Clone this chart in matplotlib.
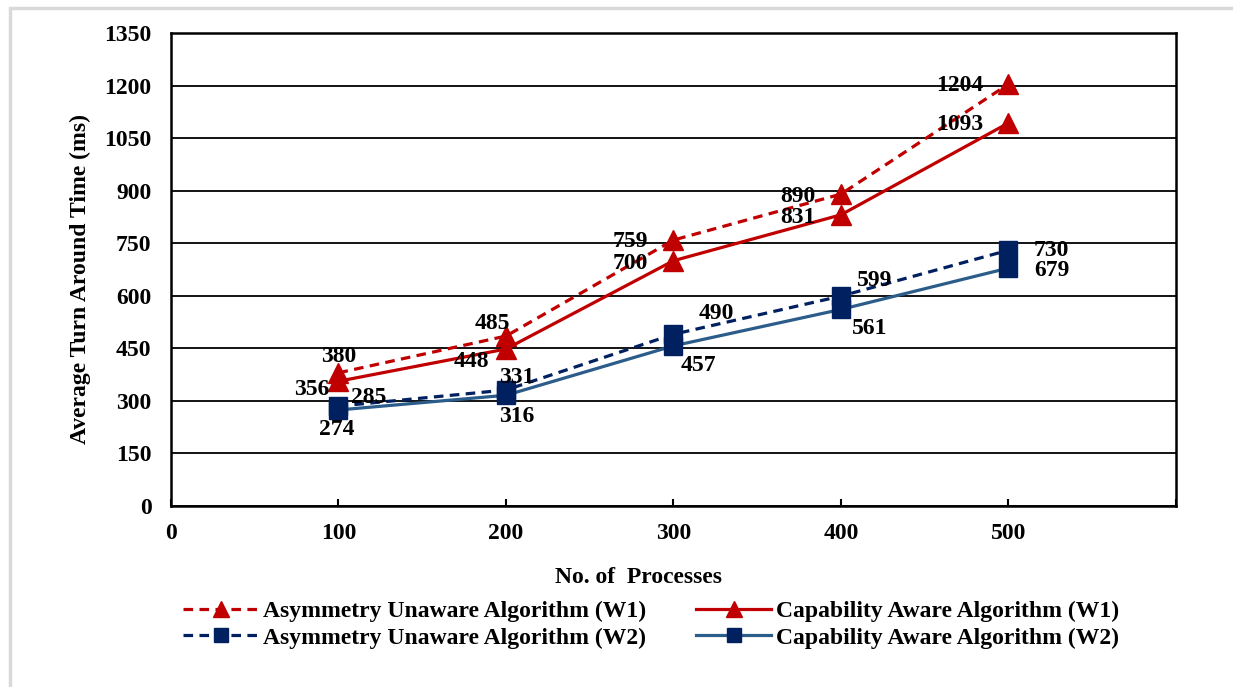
import matplotlib
matplotlib.use("Agg")
import matplotlib.pyplot as plt
from matplotlib.patches import Rectangle

plt.rcParams['font.family'] = ['Liberation Serif', 'DejaVu Serif']
plt.rcParams['font.weight'] = 'bold'

# Data
processes = [100, 200, 300, 400, 500]
unaware_w1 = [380, 485, 759, 890, 1204]
aware_w1 = [356, 448, 700, 831, 1093]
unaware_w2 = [285, 331, 490, 599, 730]
aware_w2 = [274, 316, 457, 561, 679]

labels = ["Asymmetry Unaware Algorithm (W1)", "Capability Aware Algorithm (W1)",
          "Asymmetry Unaware Algorithm (W2)", "Capability Aware Algorithm (W2)"]

red = "#C00000"
navy = "#002060"
steel = "#2B5C8A"

fig = plt.figure(figsize=(12.33, 6.87), dpi=100)
fig.patches.append(Rectangle((0.008, -0.01), 1.0, 0.998, transform=fig.transFigure,
                             fill=False, edgecolor="#d9d9d9", linewidth=2.5))
ax = fig.add_axes([0.1387, 0.2635, 0.815, 0.6885])

ax.set_xlim(0, 600)
ax.set_ylim(0, 1350)
ax.set_yticks(range(0, 1351, 150))
ax.set_xticks(range(0, 601, 100))
ax.set_xticklabels(["0", "100", "200", "300", "400", "500", ""])
ax.yaxis.grid(True, color="black", linewidth=1.3)
ax.set_axisbelow(True)
for s in ax.spines.values():
    s.set_linewidth(1.8)
ax.tick_params(axis="x", direction="in", length=5, width=1.5, labelsize=17, pad=12)
ax.tick_params(axis="y", length=0, labelsize=17, pad=14)

l1, = ax.plot(processes, unaware_w1, color=red, linestyle=(0, (3, 2)), linewidth=2.3,
              marker="^", markersize=14, zorder=4)
l2, = ax.plot(processes, aware_w1, color=red, linewidth=2.3,
              marker="^", markersize=14, zorder=4)
l3, = ax.plot(processes, unaware_w2, color=navy, linestyle=(0, (3, 2)), linewidth=2.3,
              marker="s", markersize=13, zorder=4)
l4, = ax.plot(processes, aware_w2, color=steel, linewidth=2.3,
              marker="s", markersize=13, markerfacecolor=navy, markeredgecolor=navy, zorder=3)

# data labels (offsets in points)
fs = 17
def lab(xs, ys, offs):
    for x, y, (dx, dy) in zip(xs, ys, offs):
        ax.annotate(str(y), (x, y), xytext=(dx, dy), textcoords="offset points",
                    ha="center", va="center", fontsize=fs, fontweight="bold", zorder=6)

lab(processes, unaware_w1, [(0, 12), (-10, 9), (-31, -1), (-31, -2), (-35, -1)])
lab(processes, aware_w1, [(-19, -6), (-25, -9), (-31, -2), (-31, -2), (-35, -1)])
lab(processes, unaware_w2, [(22, 6), (8, 9), (31, 15), (24, 11), (31, 0)])
lab(processes, aware_w2, [(-1, -14), (8, -15), (18, -14), (21, -14), (31, -2)])

ax.set_ylabel("Average Turn Around Time (ms)", fontsize=17, fontweight="bold")
ax.yaxis.set_label_coords(-0.08, 0.48)
ax.set_xlabel("No. of  Processes", fontsize=17, fontweight="bold")
ax.xaxis.set_label_coords(0.465, -0.13)

# legend filled column-wise, so order for row-wise reading
fig.legend([l1, l3, l2, l4], [labels[0], labels[2], labels[1], labels[3]],
           loc="lower center", bbox_to_anchor=(0.528, 0.025),
           ncol=2, frameon=False, handlelength=3.2, columnspacing=2.1,
           handletextpad=0.2, labelspacing=0.2, markerscale=0.8,
           prop={"weight": "bold", "size": 17})

fig.savefig("out.png", dpi=100)
